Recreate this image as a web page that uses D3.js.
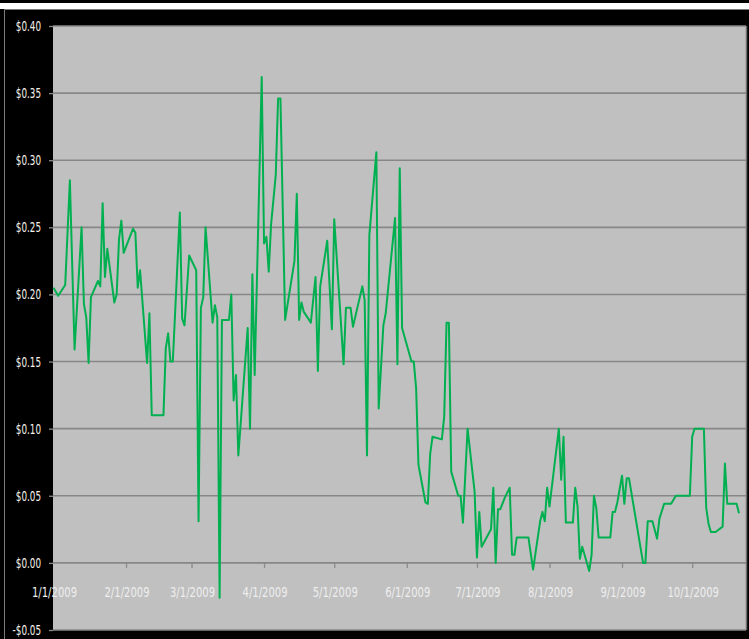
<!DOCTYPE html>
<html>
<head>
<meta charset="utf-8">
<script src="https://cdn.jsdelivr.net/npm/d3@7"></script>
<style>
  html, body { margin: 0; padding: 0; background: #000; }
  svg { display: block; }
  .lbl { font-family: "DejaVu Sans Condensed", "DejaVu Sans", sans-serif; }
</style>
</head>
<body>
<script>
const width = 749,
  height = 639;

const dates = [
  "2009-01-01","2009-01-03","2009-01-06","2009-01-08","2009-01-10","2009-01-13","2009-01-14","2009-01-15","2009-01-16","2009-01-17",
  "2009-01-20","2009-01-21","2009-01-22","2009-01-23","2009-01-24","2009-01-27","2009-01-28","2009-01-29","2009-01-30","2009-01-31",
  "2009-02-04","2009-02-05","2009-02-06","2009-02-07","2009-02-10","2009-02-11","2009-02-12","2009-02-17","2009-02-18","2009-02-19",
  "2009-02-20","2009-02-21","2009-02-24","2009-02-25","2009-02-26","2009-02-28","2009-03-03","2009-03-04","2009-03-05","2009-03-06",
  "2009-03-07","2009-03-10","2009-03-11","2009-03-12","2009-03-13","2009-03-14","2009-03-17","2009-03-18","2009-03-19","2009-03-20",
  "2009-03-21","2009-03-25","2009-03-26","2009-03-27","2009-03-28","2009-03-31","2009-04-01","2009-04-02","2009-04-03","2009-04-04",
  "2009-04-06","2009-04-07","2009-04-08","2009-04-10","2009-04-14","2009-04-15","2009-04-16","2009-04-17","2009-04-18","2009-04-21",
  "2009-04-23","2009-04-24","2009-04-25","2009-04-28","2009-04-30","2009-05-01","2009-05-05","2009-05-06","2009-05-08","2009-05-09",
  "2009-05-13","2009-05-14","2009-05-15","2009-05-16","2009-05-19","2009-05-20","2009-05-22","2009-05-23","2009-05-27","2009-05-28",
  "2009-05-29","2009-05-30","2009-06-03","2009-06-04","2009-06-05","2009-06-06","2009-06-09","2009-06-10","2009-06-11","2009-06-12",
  "2009-06-16","2009-06-17","2009-06-18","2009-06-19","2009-06-20","2009-06-23","2009-06-24","2009-06-25","2009-06-27","2009-06-30",
  "2009-07-01","2009-07-02","2009-07-03","2009-07-07","2009-07-08","2009-07-09","2009-07-10","2009-07-11","2009-07-13","2009-07-15",
  "2009-07-16","2009-07-17","2009-07-18","2009-07-23","2009-07-25","2009-07-28","2009-07-29","2009-07-30","2009-07-31","2009-08-01",
  "2009-08-05","2009-08-06","2009-08-07","2009-08-08","2009-08-11","2009-08-12","2009-08-13","2009-08-14","2009-08-15","2009-08-18",
  "2009-08-19","2009-08-20","2009-08-21","2009-08-22","2009-08-27","2009-08-28","2009-08-29","2009-08-30","2009-09-01","2009-09-02",
  "2009-09-03","2009-09-04","2009-09-10","2009-09-11","2009-09-12","2009-09-14","2009-09-16","2009-09-17","2009-09-19","2009-09-22",
  "2009-09-24","2009-09-30","2009-10-01","2009-10-02","2009-10-06","2009-10-07","2009-10-08","2009-10-09","2009-10-11","2009-10-14",
  "2009-10-15","2009-10-16","2009-10-20","2009-10-21"
];

const prices = [
  0.205, 0.199, 0.207, 0.285, 0.159, 0.250, 0.193, 0.183, 0.149, 0.198,
  0.210, 0.206, 0.268, 0.213, 0.234, 0.194, 0.200, 0.241, 0.255, 0.231,
  0.249, 0.246, 0.205, 0.218, 0.149, 0.186, 0.110, 0.110, 0.160, 0.171,
  0.150, 0.150, 0.261, 0.182, 0.177, 0.229, 0.218, 0.031, 0.190, 0.198,
  0.250, 0.179, 0.192, 0.183, -0.026, 0.181, 0.181, 0.200, 0.121, 0.140,
  0.080, 0.175, 0.100, 0.215, 0.140, 0.362, 0.238, 0.243, 0.217, 0.252,
  0.289, 0.346, 0.346, 0.181, 0.225, 0.275, 0.181, 0.194, 0.187, 0.179,
  0.213, 0.143, 0.206, 0.240, 0.174, 0.256, 0.148, 0.190, 0.190, 0.176,
  0.206, 0.196, 0.080, 0.244, 0.306, 0.115, 0.177, 0.186, 0.257, 0.148,
  0.294, 0.175, 0.150, 0.150, 0.130, 0.073, 0.045, 0.044, 0.081, 0.094,
  0.092, 0.109, 0.179, 0.179, 0.068, 0.050, 0.050, 0.030, 0.100, 0.053,
  0.004, 0.038, 0.012, 0.025, 0.056, 0.000, 0.040, 0.040, 0.049, 0.056,
  0.006, 0.006, 0.019, 0.019, -0.005, 0.031, 0.038, 0.031, 0.056, 0.042,
  0.100, 0.062, 0.094, 0.030, 0.030, 0.056, 0.042, 0.003, 0.012, -0.006,
  0.006, 0.050, 0.041, 0.019, 0.019, 0.038, 0.038, 0.045, 0.065, 0.044,
  0.063, 0.063, 0.000, 0.000, 0.031, 0.031, 0.018, 0.033, 0.044, 0.044,
  0.050, 0.050, 0.094, 0.100, 0.100, 0.041, 0.029, 0.023, 0.023, 0.027,
  0.074, 0.044, 0.044, 0.037
];

const yTicks = [-0.05, 0, 0.05, 0.1, 0.15, 0.2, 0.25, 0.3, 0.35, 0.4];
const xTicks = ["2009-01-01","2009-02-01","2009-03-01","2009-04-01","2009-05-01",
  "2009-06-01","2009-07-01","2009-08-01","2009-09-01","2009-10-01"];
const xDomain = ["2009-01-01", "2009-10-24"];

const parse = d3.timeParse("%Y-%m-%d");
const data = dates.map((d, i) => ({ date: parse(d), v: prices[i] }));

const plot = { left: 53, right: 746, top: 26, bottom: 630 };

const x = d3.scaleTime()
  .domain(xDomain.map(parse))
  .range([plot.left + 0.5, plot.right]);

const y = d3.scaleLinear()
  .domain([-0.05, 0.4])
  .range([plot.bottom, plot.top]);

const money = (v) => (v < 0 ? "-$" : "$") + Math.abs(v).toFixed(2);
const dateFmt = d3.timeFormat("%-m/%-d/%Y");

const svg = d3.select("body").append("svg")
  .attr("width", width)
  .attr("height", height);

// background, white strip on top, chart border
svg.append("rect").attr("width", width).attr("height", height).attr("fill", "#000");
svg.append("rect").attr("x", 0).attr("y", 3).attr("width", width).attr("height", 6).attr("fill", "#fff");
svg.append("path")
  .attr("d", `M4.5,${height} V9.5 H${width}`)
  .attr("fill", "none")
  .attr("stroke", "#7a7a7a")
  .attr("stroke-width", 1);

// plot area
svg.append("rect")
  .attr("x", plot.left)
  .attr("y", plot.top)
  .attr("width", plot.right - plot.left)
  .attr("height", plot.bottom - plot.top)
  .attr("fill", "#c0c0c0");
svg.append("line")
  .attr("x1", plot.right + 0.5).attr("x2", plot.right + 0.5)
  .attr("y1", plot.top).attr("y2", plot.bottom)
  .attr("stroke", "#6e6e6e").attr("stroke-width", 1.5);

// gridlines
svg.append("g")
  .selectAll("line")
  .data(yTicks)
  .join("line")
  .attr("x1", plot.left)
  .attr("x2", plot.right)
  .attr("y1", (d) => y(d))
  .attr("y2", (d) => y(d))
  .attr("stroke", "#878787")
  .attr("stroke-width", 1.6);

// y axis ticks + labels (narrow font look: squeeze horizontally)
const ySqueeze = 0.7;
const yAxis = svg.append("g")
  .attr("transform", `translate(${plot.left},0)`)
  .call(d3.axisLeft(y).tickValues(yTicks).tickSize(4).tickFormat(money));
yAxis.select(".domain").remove();
yAxis.selectAll(".tick line").attr("stroke", "#8a8a8a").attr("stroke-width", 1.3);
yAxis.selectAll(".tick text")
  .attr("class", "lbl")
  .attr("x", -12 / ySqueeze)
  .attr("transform", `scale(${ySqueeze},1)`)
  .style("font-size", "14px")
  .attr("fill", "#f6f1ea");

// x axis ticks on the zero line
const xAxis = svg.append("g")
  .attr("transform", `translate(0,${y(0)})`)
  .call(d3.axisBottom(x).tickValues(xTicks.slice(1).map(parse)).tickSize(5).tickFormat(""));
xAxis.select(".domain").remove();
xAxis.selectAll(".tick line").attr("stroke", "#8a8a8a").attr("stroke-width", 1.3);

svg.append("g")
  .selectAll("text")
  .data(xTicks.map(parse))
  .join("text")
  .attr("class", "lbl")
  .attr("transform", (d) => `translate(${x(d) + 1},${y(0) + 34}) scale(0.77,1)`)
  .attr("text-anchor", "middle")
  .style("font-size", "14.5px")
  .attr("fill", "#eeeeee")
  .text(dateFmt);

// price line
const line = d3.line()
  .x((d) => x(d.date))
  .y((d) => y(d.v));

svg.append("path")
  .datum(data)
  .attr("d", line)
  .attr("fill", "none")
  .attr("stroke", "#00b050")
  .attr("stroke-width", 2)
  .attr("stroke-linejoin", "round");
</script>
</body>
</html>
